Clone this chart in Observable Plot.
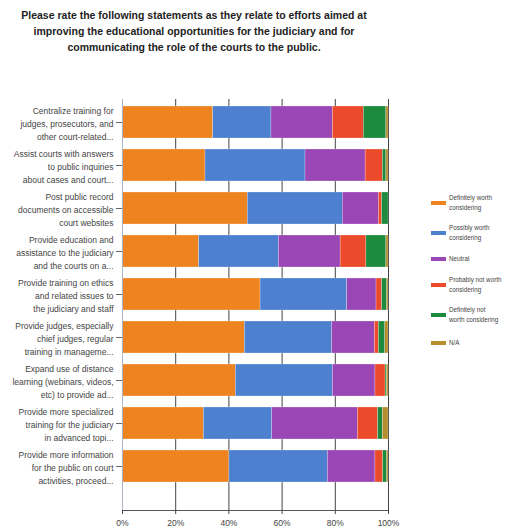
<!DOCTYPE html>
<html>
<head>
<meta charset="utf-8">
<script src="https://cdn.jsdelivr.net/npm/d3@7"></script>
<script src="https://cdn.jsdelivr.net/npm/@observablehq/plot@0.6"></script>
<style>
  html, body { margin: 0; padding: 0; background: #fff; }
  #wrap { position: relative; width: 516px; height: 532px; overflow: hidden; font-family: "Liberation Sans", Arial, sans-serif; }
  #title { position: absolute; left: 0; width: 388px; top: 7px; text-align: center; font-weight: bold; font-size: 10.5px; line-height: 16px; color: #222; letter-spacing: 0px; }
  #chart { position: absolute; left: 0; top: 0; }
  #legend { position: absolute; left: 431px; top: 0; width: 85px; height: 532px; }
  .li { position: absolute; left: 0; display: flex; align-items: center; }
  .sw { width: 15px; height: 4px; margin-right: 3px; flex: none; }
  .lt { font-size: 6.3px; line-height: 10px; color: #444; white-space: nowrap; }
</style>
</head>
<body>
<div id="wrap">
  <div id="title">Please rate the following statements as they relate to efforts aimed at<br>improving the educational opportunities for the judiciary and for<br>communicating the role of the courts to the public.</div>
  <div id="chart"></div>
  <div id="legend"></div>
</div>
<script>
const categories = [
  "Centralize training for\njudges, prosecutors, and\nother court-related...",
  "Assist courts with answers\nto public inquiries\nabout cases and court...",
  "Post public record\ndocuments on accessible\ncourt websites",
  "Provide education and\nassistance to the judiciary\nand the courts on a...",
  "Provide training on ethics\nand related issues to\nthe judiciary and staff",
  "Provide judges, especially\nchief judges, regular\ntraining in manageme...",
  "Expand use of distance\nlearning (webinars, videos,\netc) to provide ad...",
  "Provide more specialized\ntraining for the judiciary\nin advanced topi...",
  "Provide more information\nfor the public on court\nactivities, proceed..."
];
const seriesNames = [
  "Definitely worth considering",
  "Possibly worth considering",
  "Neutral",
  "Probably not worth considering",
  "Definitely not worth considering",
  "N/A"
];
const seriesLegendLabels = [
  "Definitely worth\nconsidering",
  "Possibly worth\nconsidering",
  "Neutral",
  "Probably not worth\nconsidering",
  "Definitely not\nworth considering",
  "N/A"
];
const seriesColors = ["#ee8420", "#4d80cf", "#9a46b4", "#ec4b2b", "#1d8a3d", "#b78e2e"];

const definitelyWorth = [34.1, 31.2, 47.1, 28.8, 51.9, 46.0, 42.6, 30.6, 40.2];
const possiblyWorth   = [21.9, 37.6, 35.7, 30.0, 32.6, 32.8, 36.5, 25.7, 37.0];
const neutral         = [23.1, 22.6, 13.6, 23.2, 11.0, 16.1, 16.0, 32.2, 17.9];
const probablyNot     = [11.6,  6.5,  1.2,  9.7,  2.1,  1.5,  3.8,  7.6,  2.9];
const definitelyNot   = [ 8.5,  1.3,  2.4,  7.5,  1.9,  2.4,  0.5,  1.8,  1.5];
const notApplicable   = [ 0.8,  0.8,  0.0,  0.8,  0.5,  1.2,  0.6,  2.1,  0.5];
const xTicks = [0, 20, 40, 60, 80, 100];

const seriesValues = [definitelyWorth, possiblyWorth, neutral, probablyNot, definitelyNot, notApplicable];
const rows = [];
categories.forEach((c, i) => {
  seriesNames.forEach((s, j) => {
    rows.push({category: c, series: s, value: seriesValues[j][i]});
  });
});

const chart = Plot.plot({
  width: 516,
  height: 532,
  marginLeft: 122,
  marginRight: 128,
  marginTop: 99,
  marginBottom: 22,
  style: {fontFamily: "'Liberation Sans', Arial, sans-serif", background: "transparent"},
  x: {domain: [0, 100], ticks: xTicks, label: null},
  y: {domain: categories, paddingInner: 0.26, paddingOuter: 0.13, insetBottom: 22, label: null},
  color: {domain: seriesNames, range: seriesColors},
  marks: [
    Plot.gridX(xTicks, {stroke: "#444", strokeOpacity: 1, strokeWidth: 1}),
    Plot.barX(rows, {x: "value", y: "category", fill: "series", stroke: "#fff", strokeWidth: 0.4, strokeOpacity: 0.6}),
    Plot.frame({anchor: "bottom", stroke: "#555"}),
    Plot.frame({anchor: "left", stroke: "#aab4c4"}),
    Plot.axisX(xTicks, {tickFormat: d => d + "%", fontSize: 8.5, fill: "#444", tickSize: 4, tickPadding: 5, stroke: "#444", label: null}),
    Plot.axisY({tickSize: 6, tickPadding: 3, fontSize: 8.5, fill: "#444", stroke: "#666", lineHeight: 1.55, label: null})
  ]
});
document.getElementById("chart").appendChild(chart);

// legend
const legend = document.getElementById("legend");
const legendY = [203, 233, 259, 285, 315, 343];
seriesNames.forEach((s, j) => {
  const item = document.createElement("div");
  item.className = "li";
  item.style.top = (legendY[j] - 10) + "px";
  item.style.height = "20px";
  const sw = document.createElement("div");
  sw.className = "sw";
  sw.style.background = seriesColors[j];
  const t = document.createElement("div");
  t.className = "lt";
  t.innerHTML = seriesLegendLabels[j].replace("\n", "<br>");
  item.appendChild(sw);
  item.appendChild(t);
  legend.appendChild(item);
});
</script>
</body>
</html>
